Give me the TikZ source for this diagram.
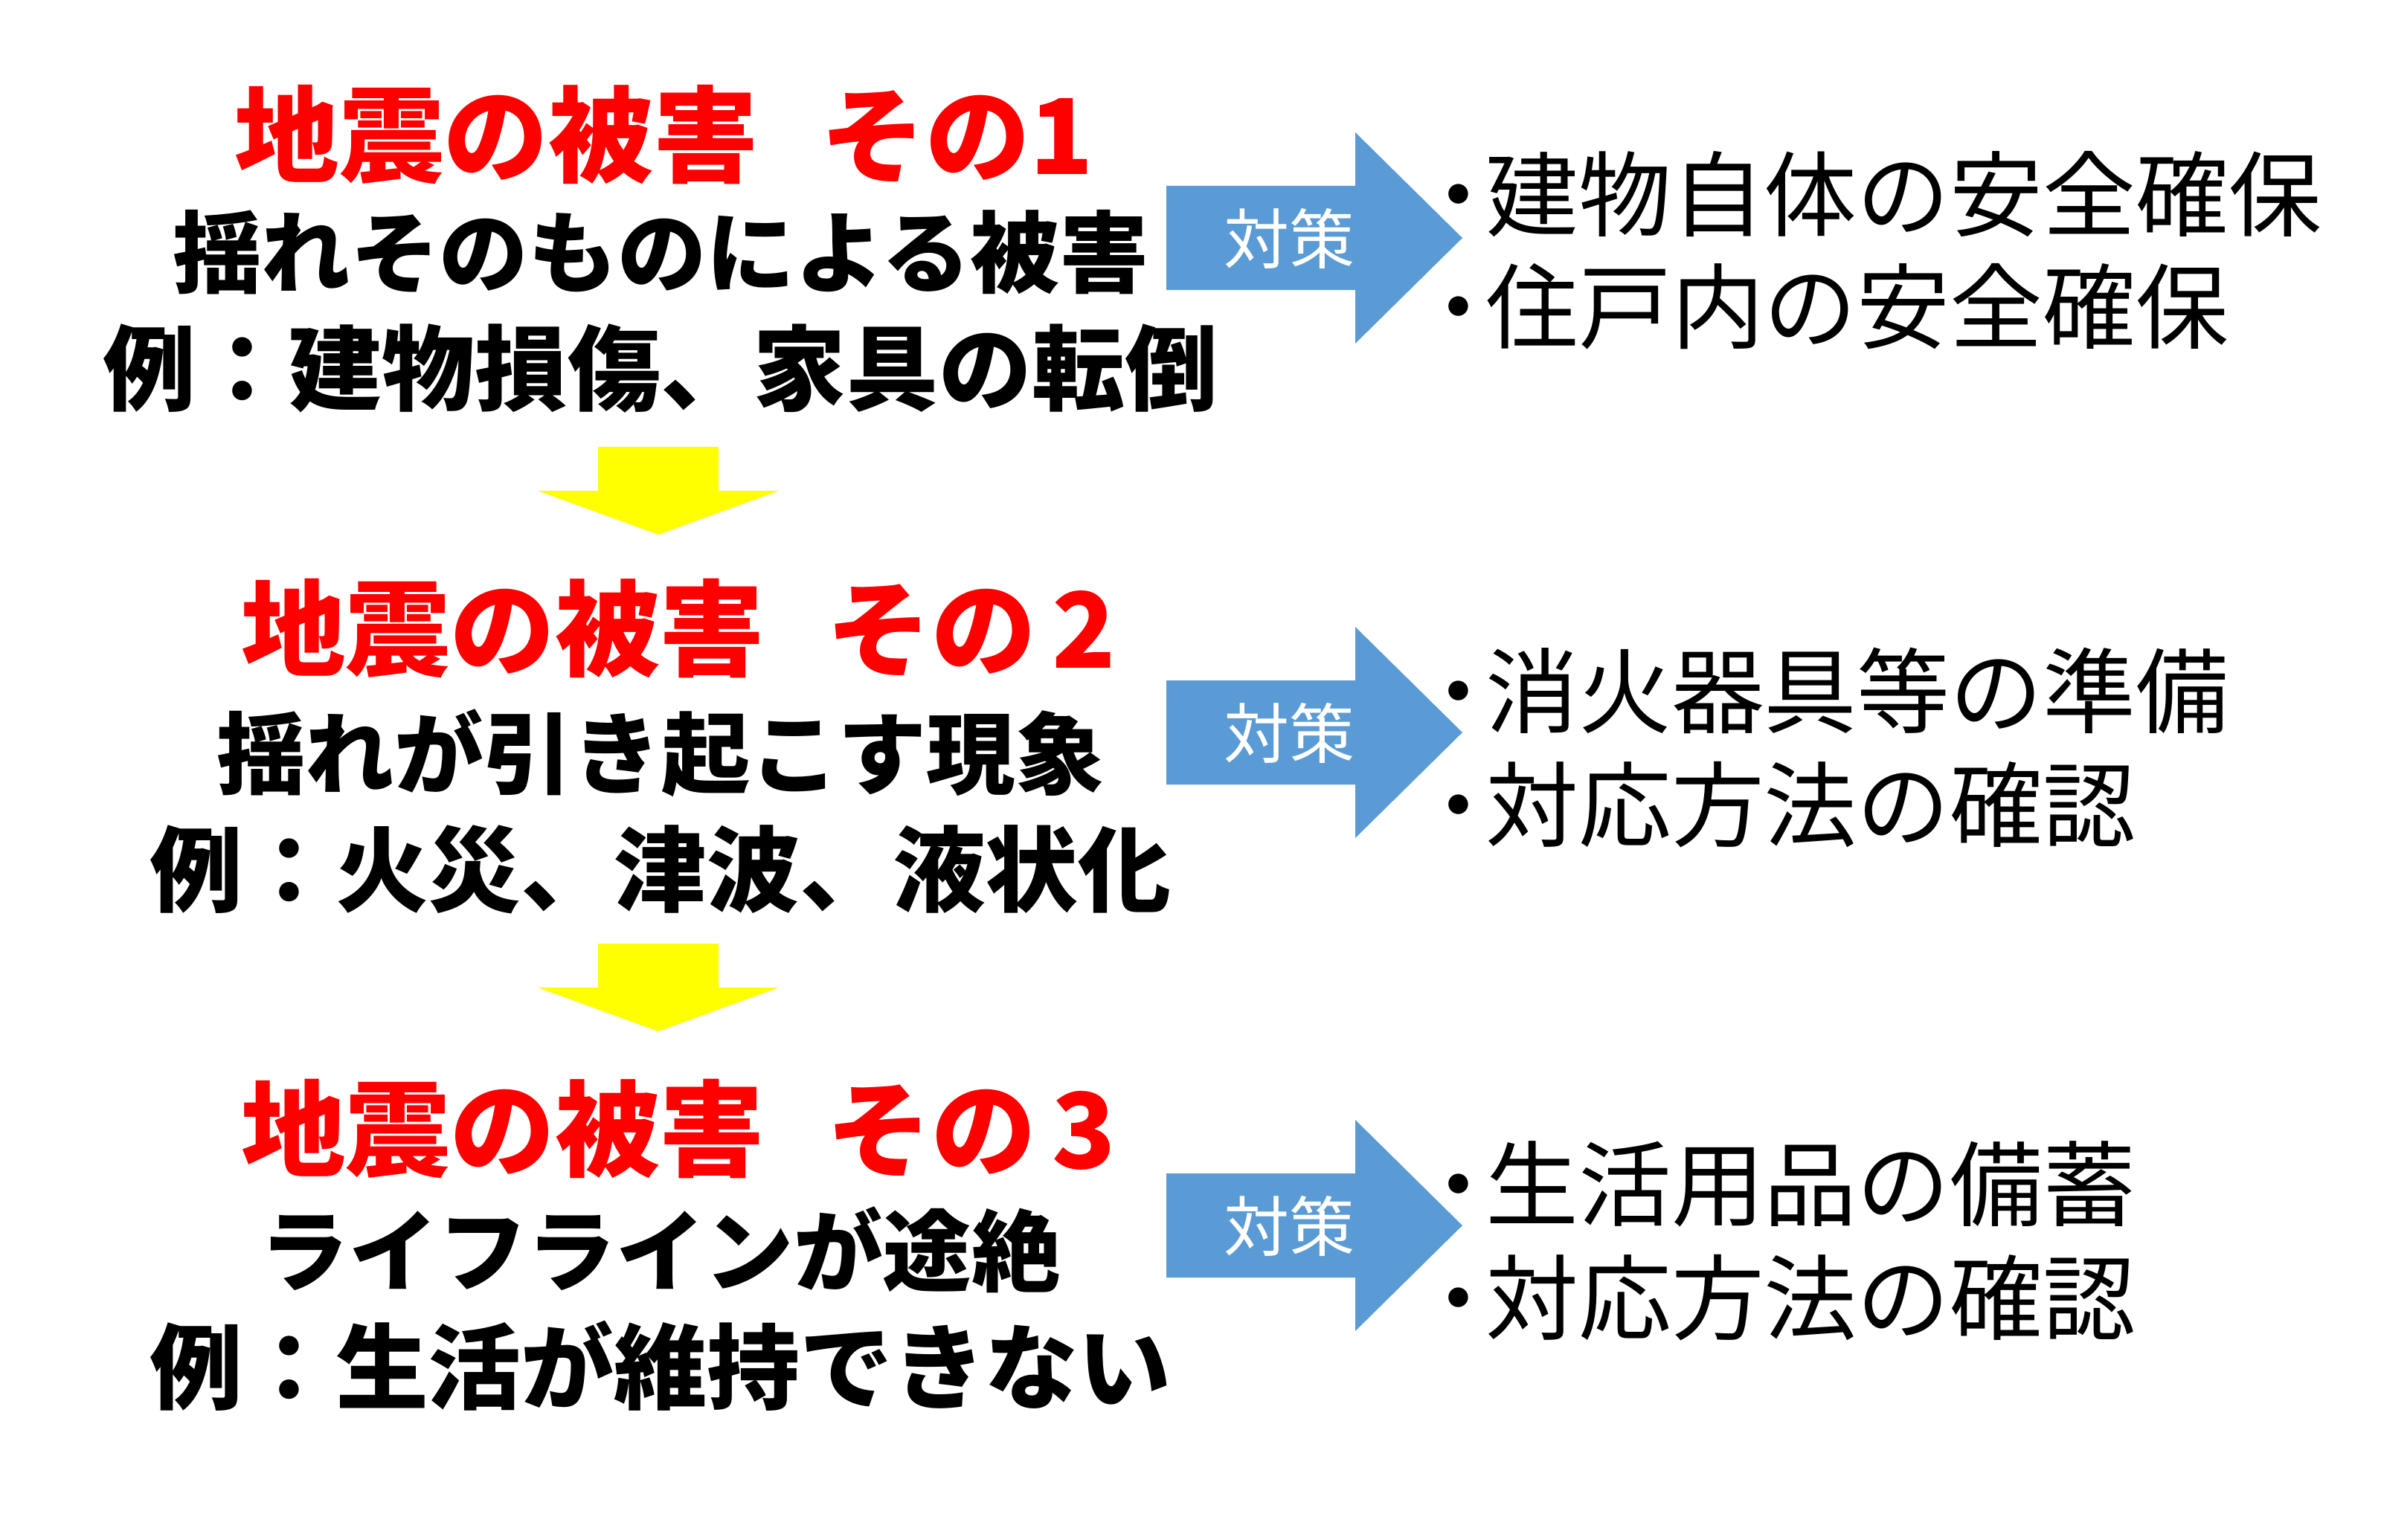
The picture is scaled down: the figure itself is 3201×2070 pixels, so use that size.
\documentclass[tikz,border=0pt]{standalone}
\usepackage{fontspec}
\usepackage{xcolor}
\newfontfamily\jp{Noto Sans CJK JP}
\definecolor{headred}{RGB}{255,0,0}
\definecolor{flowyellow}{RGB}{255,255,0}
\definecolor{measureblue}{RGB}{91,155,213}

\begin{document}
\begin{tikzpicture}[x=0.01cm, y=-0.01cm,
    headtext/.style={font=\jp\bfseries\fontsize{40}{48}\selectfont, text=headred, inner sep=0pt},
    desctext/.style={font=\jp\bfseries\fontsize{34}{40}\selectfont, inner sep=0pt},
    exampletext/.style={font=\jp\bfseries\fontsize{35.5}{42}\selectfont, inner sep=0pt},
    itemtext/.style={font=\jp\fontsize{35.5}{42}\selectfont, anchor=west, inner sep=0pt},
    tagtext/.style={font=\jp\fontsize{25}{30}\selectfont, text=white, inner sep=0pt},
    downarrow/.pic={\fill[flowyellow] (-81,-59) -- (81,-59) -- (81,0) -- (162,0) -- (0,59) -- (-162,0) -- (-81,0) -- cycle;},
    rightarrow/.pic={\fill[measureblue] (-199,-70) -- (55,-70) -- (55,-142) -- (199,0) -- (55,142) -- (55,70) -- (-199,70) -- cycle;}
]
\useasboundingbox[fill=white] (0,0) rectangle (3201,2070);

% damage 1
\node[headtext] (h1) at (893,181) {地震の被害\hspace{0.6em}その1};
\node[desctext] (d1) at (888,339) {揺れそのものによる被害};
\node[exampletext] (e1) at (888,495) {例：建物損傷、家具の転倒};

% damage 2
\node[headtext] (h2) at (912,845) {地震の被害\hspace{0.6em}その\kern0.15em 2};
\node[desctext] (d2) at (888,1013) {揺れが引き起こす現象};
\node[exampletext] (e2) at (888,1169) {例：火災、津波、液状化};

% damage 3
\node[headtext] (h3) at (912,1518) {地震の被害\hspace{0.6em}その\kern0.15em 3};
\node[desctext] (d3) at (888,1681) {ライフラインが途絶};
\node[exampletext] (e3) at (888,1837) {例：生活が維持できない};

% flow arrows
\pic (f1) at (885,660) {downarrow};
\pic (f2) at (885,1328) {downarrow};

% countermeasures
\pic (a1) at (1767,320) {rightarrow};
\pic (a2) at (1767,985) {rightarrow};
\pic (a3) at (1767,1648) {rightarrow};
\node[tagtext] (t1) at (1733,321) {対策};
\node[tagtext] (t2) at (1733,986) {対策};
\node[tagtext] (t3) at (1733,1649) {対策};

\node[itemtext] (m1a) at (1898,261) {・\kern-0.21em 建物自体の安全確保};
\node[itemtext] (m1b) at (1898,412) {・\kern-0.21em 住戸内の安全確保};
\node[itemtext] (m2a) at (1898,929) {・\kern-0.21em 消火器具等の準備};
\node[itemtext] (m2b) at (1898,1082) {・\kern-0.21em 対応方法の確認};
\node[itemtext] (m3a) at (1898,1592) {・\kern-0.21em 生活用品の備蓄};
\node[itemtext] (m3b) at (1898,1745) {・\kern-0.21em 対応方法の確認};
\end{tikzpicture}
\end{document}
